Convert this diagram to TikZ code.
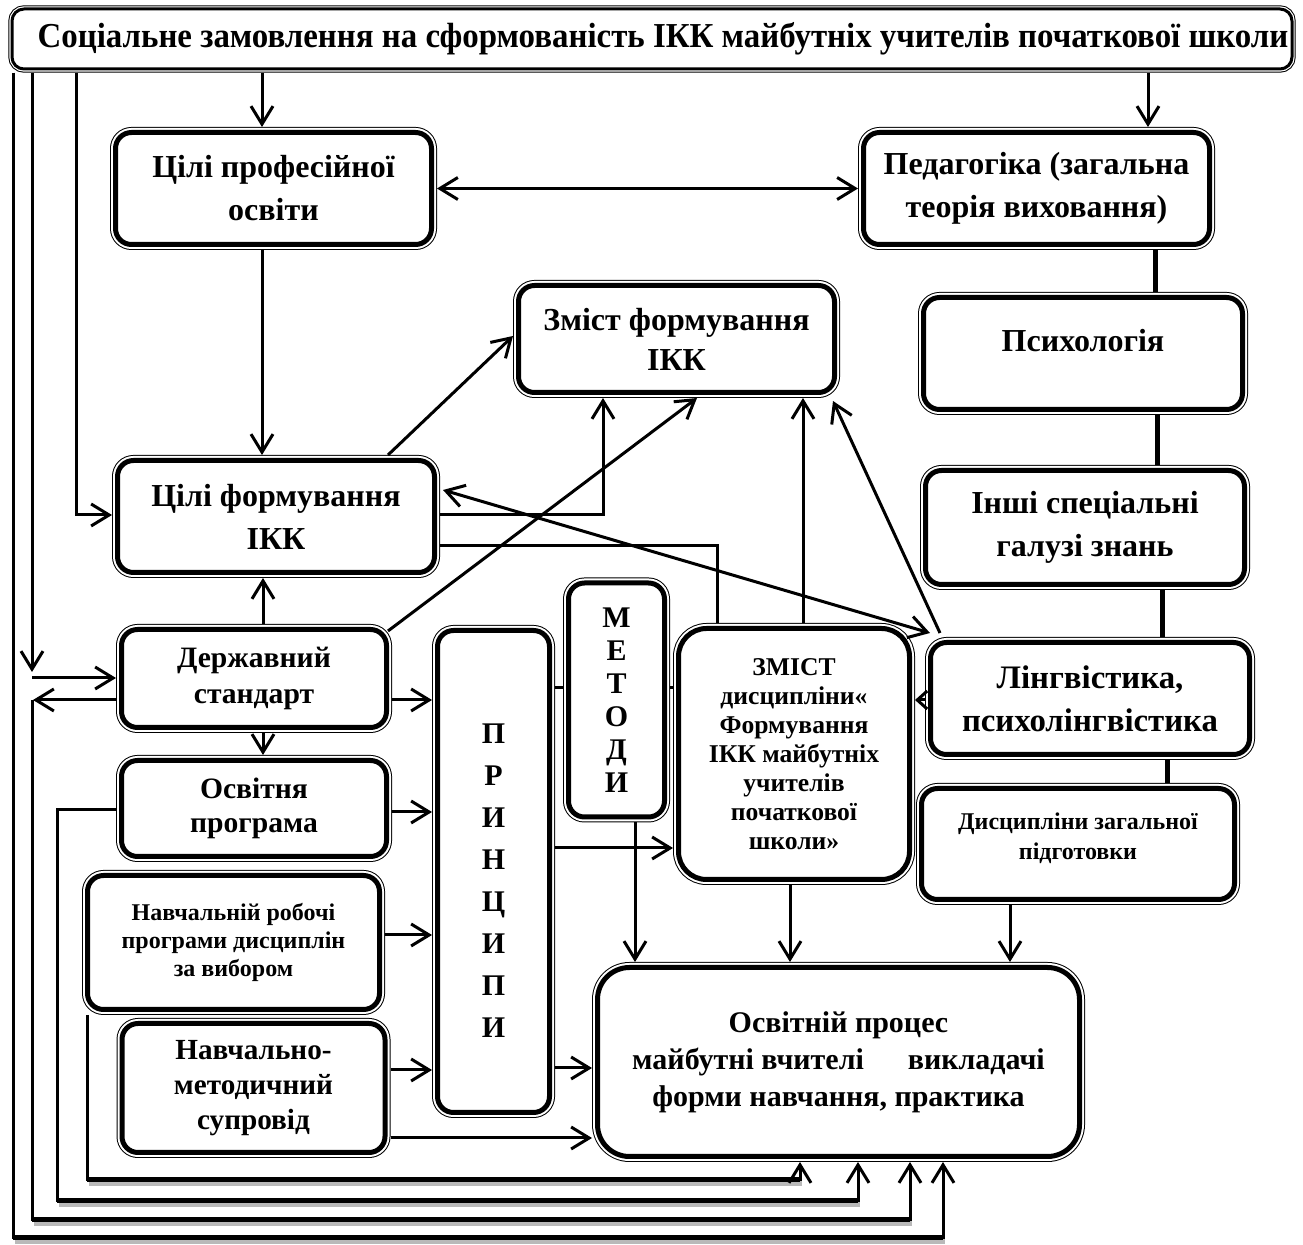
\documentclass[tikz,border=0pt]{standalone}
\usepackage{fontspec}
\setmainfont{Liberation Serif}
\usetikzlibrary{arrows.meta,calc}
\begin{document}
\begin{tikzpicture}[x=0.5pt,y=-0.5pt,font=\bfseries,
  >={Straight Barb[length=9pt,width=11pt]},
  box/.style={draw=black,line width=2.5pt,fill=white,rounded corners=8pt,
    outer sep=2.75pt,inner sep=1pt,align=center,
    preaction={draw=black,line width=5.5pt},
    preaction={draw=white,line width=4.5pt}},
  topbox/.style={draw=black,line width=1.5pt,fill=white,rounded corners=6pt,
    outer sep=1.85pt,inner sep=1pt,align=center,
    preaction={draw=black,line width=3.7pt},
    preaction={draw=white,line width=2.7pt}},
  big/.style={font=\bfseries\fontsize{16pt}{21.5pt}\selectfont},
  mid/.style={font=\bfseries\fontsize{14.8pt}{18pt}\selectfont},
  conn/.style={line width=1.5pt},
  link/.style={line width=2.5pt},
  bline/.style={line width=2.5pt,
    preaction={draw=gray!55,line width=2.5pt,transform canvas={xshift=1pt,yshift=-2pt}}},
  txt/.style={inner sep=0pt,align=center}
]
\useasboundingbox (0,0) rectangle (1303,1245);
\fill[white] (0,0) rectangle (1303,1245);

% ---------- nodes ----------
\node[topbox,minimum width=640pt,minimum height=30pt,
  font=\bfseries\fontsize{17.5pt}{20pt}\selectfont] (top) at (652,39)
  {\hspace*{11pt}\scalebox{0.94}[1]{Соціальне замовлення на сформованість ІКК майбутніх учителів початкової школи}};

\node[box,big,minimum width=158pt,minimum height=56pt] (cp) at (273.5,188.5)
  {Цілі професійної\\освіти};
\node[box,big,minimum width=173pt,minimum height=56pt] (ped) at (1036.5,188.5)
  {Педагогіка (загальна\\теорія виховання)};
\node[box,font=\bfseries\fontsize{16pt}{20pt}\selectfont,minimum width=158pt,minimum height=53.5pt] (zf) at (676.5,339)
  {Зміст формування\\ІКК};
\node[box,minimum width=159.5pt,minimum height=56pt] (psy) at (1083,353.5) {};
\node[txt,big] (psyt) at (1083,341) {Психологія};
\node[box,big,minimum width=158.5pt,minimum height=56pt] (cf) at (276,516.5)
  {Цілі формування\\ІКК};
\node[box,big,minimum width=159.5pt,minimum height=57pt] (insh) at (1085,527.5)
  {Інші спеціальні\\галузі знань};
\node[box,mid,minimum width=132.5pt,minimum height=49pt] (ds) at (254,678.5)
  {Державний\\стандарт};
\node[box,font=\bfseries\fontsize{14.8pt}{17pt}\selectfont,minimum width=132.5pt,minimum height=48pt] (osv) at (254,808.5)
  {Освітня\\програма};
\node[box,font=\bfseries\fontsize{12pt}{14pt}\selectfont,minimum width=146pt,minimum height=67pt] (nr) at (233.5,942.5)
  {Навчальній робочі\\програми дисциплін\\за вибором};
\node[box,font=\bfseries\fontsize{14.6pt}{17.5pt}\selectfont,minimum width=131.5pt,minimum height=64.5pt] (nm) at (253.5,1088)
  {Навчально-\\методичний\\супровід};
\node[box,minimum width=56pt,minimum height=241pt] (pr) at (493.5,871.5) {};
\node[txt,font=\bfseries\fontsize{15pt}{21pt}\selectfont] (prt) at (493.5,881)
  {П\\Р\\И\\Н\\Ц\\И\\П\\И};
\node[box,font=\bfseries\fontsize{15pt}{16.5pt}\selectfont,minimum width=48pt,minimum height=117pt] (met) at (616.5,700)
  {М\\Е\\Т\\О\\Д\\И};
\node[box,rounded corners=14pt,font=\bfseries\fontsize{12.8pt}{14.5pt}\selectfont,minimum width=115.5pt,minimum height=125.5pt] (zm) at (794,754)
  {ЗМІСТ\\дисципліни«\\Формування\\ІКК майбутніх\\учителів\\початкової\\школи»};
\node[box,font=\bfseries\fontsize{16.4pt}{21.5pt}\selectfont,minimum width=159.5pt,minimum height=56pt] (ling) at (1090,698.5)
  {Лінгвістика,\\психолінгвістика};
\node[box,minimum width=156.5pt,minimum height=55.5pt] (dz) at (1078,844) {};
\node[txt,font=\bfseries\fontsize{12pt}{15pt}\selectfont] (dzt) at (1078,838)
  {Дисципліни загальної\\підготовки};
\node[box,rounded corners=16pt,font=\bfseries\fontsize{15pt}{18.5pt}\selectfont,minimum width=241pt,minimum height=94.5pt] (op) at (838.5,1062)
  {Освітній процес\\майбутні вчителі\hspace{22pt}викладачі\\форми навчання, практика};

% ---------- connectors ----------
\draw[conn,->] (top.south -| 262,0) -- (cp.north -| 262,0);
\draw[conn,->] (top.south -| 1148,0) -- (ped.north -| 1148,0);
\draw[conn,<->] (cp.east) -- (ped.west);
\draw[conn,->] (cp.south -| 262,0) -- (cf.north -| 262,0);
\draw[link] (ped.south -| 1155,0) -- (psy.north -| 1155,0);
\draw[link] (psy.south -| 1157,0) -- (insh.north -| 1157,0);
\draw[link] (insh.south -| 1162,0) -- (ling.north -| 1162,0);
\draw[link] (ling.south -| 1167,0) -- (dz.north -| 1167,0);

% top-left feeders
\draw[conn,->] (top.south -| 76,0) |- (cf.west |- 0,515);
\draw[conn,->] (top.south -| 32,0) -- (32,672);
\draw[conn,->] (32,678) -- (ds.west |- 0,678);
\draw[conn,->] (ds.west |- 0,700) -- (33,700);

% to "Zmist formuvannia"
\draw[conn,->] (cf.north -| 388,0) -- (zf.west |- 0,336);
\draw[conn,->] (cf.east |- 0,515) -| (zf.south -| 603,0);
\draw[conn,->] (388,631) -- (zf.south -| 697,0);
\draw[conn,->] (zm.north -| 803,0) -- (zf.south -| 803,0);
\draw[conn,->] (940,633) -- (833,401);
\draw[conn] (cf.east |- 0,546) -| (zm.north -| 717,0);
\draw[conn,<->] (443,490) -- (930,633);

% left column
\draw[conn,->] (ds.north -| 263,0) -- (cf.south -| 263,0);
\draw[conn,->] (ds.south -| 263,0) -- (osv.north -| 263,0);
\draw[conn,->] (ds.east |- 0,700) -- (pr.west |- 0,700);
\draw[conn,->] (osv.east |- 0,812) -- (pr.west |- 0,812);
\draw[conn,->] (nr.east |- 0,935) -- (pr.west |- 0,935);
\draw[conn,->] (nm.east |- 0,1070) -- (pr.west |- 0,1070);
\draw[conn,->] (nm.east |- 0,1138) -- (op.west |- 0,1138);
\draw[conn,->] (pr.east |- 0,1068) -- (op.west |- 0,1068);
\draw[conn,->] (pr.east |- 0,848) -- (zm.west |- 0,848);
\draw[conn] (pr.east |- 0,688) -- (met.west |- 0,688);
\draw[conn] (met.east |- 0,688) -- (zm.west |- 0,688);
\draw[conn,->] (met.south -| 635,0) -- (op.north -| 635,0);
\draw[conn,->] (zm.south -| 790,0) -- (op.north -| 790,0);
\draw[conn,->] (dz.south -| 1010,0) -- (op.north -| 1010,0);
\draw[conn,-{Straight Barb[length=5pt,width=9pt]}] (ling.west |- 0,700) -- (zm.east |- 0,700);

% bottom return lines
\draw[bline] (87,1180) -- (800,1180);
\draw[bline] (57,1200) -- (858,1200);
\draw[bline] (32,1219) -- (910,1219);
\draw[bline] (13,1237) -- (943,1237);
\draw[conn,->] (nr.south -| 87,0) |- (800,1180) -- (op.south -| 800,0);
\draw[conn,->] (osv.west |- 0,810) -| (57,1200) -| (op.south -| 858,0);
\draw[conn,->] (32,700) |- (910,1219) -- (op.south -| 910,0);
\draw[conn,->] (top.south -| 13,0) |- (943,1237) -- (op.south -| 943,0);
\end{tikzpicture}
\end{document}
